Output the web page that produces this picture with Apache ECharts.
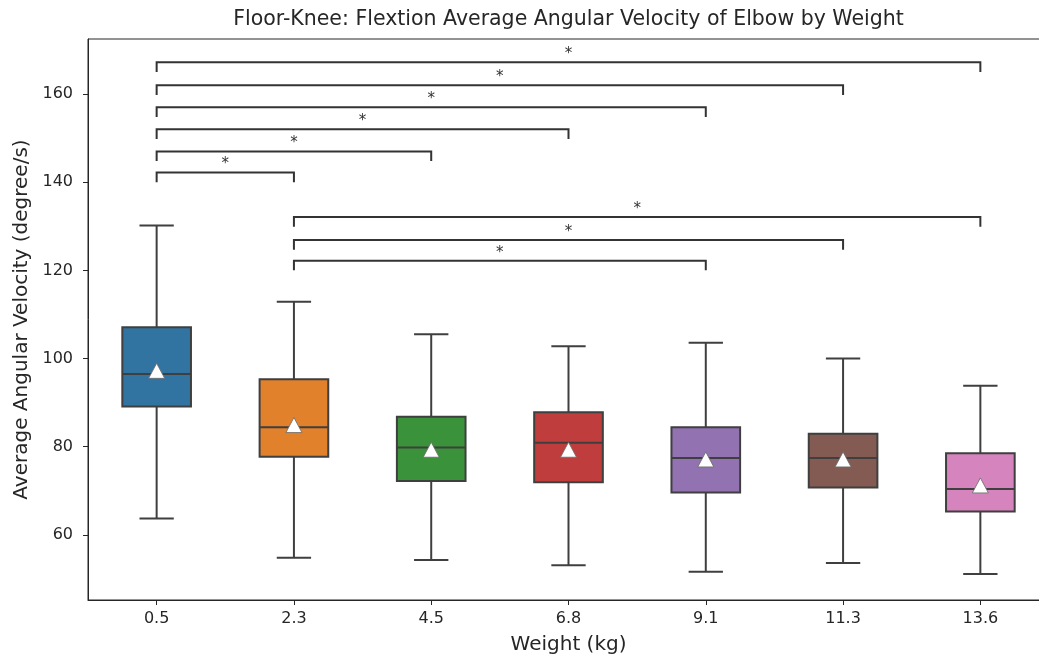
<!DOCTYPE html>
<html>
<head>
<meta charset="utf-8">
<script src="https://cdn.jsdelivr.net/npm/echarts@6/dist/echarts.min.js"></script>
<style>
  html, body { margin: 0; padding: 0; background: #fff; }
  #chart { width: 1039px; height: 660px; }
</style>
</head>
<body>
<div id="chart"></div>
<script>
// Weight categories (kg)
const categories = ['0.5', '2.3', '4.5', '6.8', '9.1', '11.3', '13.6'];

// Box statistics per weight (degree/s)
const whiskerLow  = [63.7, 54.8, 54.3, 53.1, 51.6, 53.6, 51.1];
const quartile1   = [89.1, 77.7, 72.2, 71.9, 69.6, 70.7, 65.3];
const medians     = [96.5, 84.4, 79.8, 80.9, 77.4, 77.4, 70.4];
const quartile3   = [107.1, 95.3, 86.8, 87.8, 84.4, 82.9, 78.5];
const whiskerHigh = [130.2, 112.9, 105.5, 102.8, 103.6, 100.0, 93.8];
const means       = [97.2, 84.9, 79.3, 79.3, 77.1, 77.1, 71.2];

// Significance brackets: category index pairs, bracket height, annotation
const bracketFrom  = [0, 0, 0, 0, 0, 0, 1, 1, 1];
const bracketTo    = [1, 2, 3, 4, 5, 6, 4, 5, 6];
const bracketY     = [142.2, 147.0, 152.0, 157.0, 162.0, 167.2, 122.2, 126.9, 132.1];
const bracketLabel = ['*', '*', '*', '*', '*', '*', '*', '*', '*'];

// Y axis tick labels
const yTicks = [60, 80, 100, 120, 140, 160];

const boxColors = ['#3274a1', '#e1812c', '#3a923a', '#c03d3e', '#9372b2', '#845b53', '#d684bd'];
const EDGE = '#3f3f3f';
const FONT = 'DejaVu Sans';

const boxData = categories.map((c, i) =>
  [i, whiskerLow[i], quartile1[i], medians[i], quartile3[i], whiskerHigh[i]]);
const meanData = categories.map((c, i) => [i, means[i]]);
const bracketData = bracketFrom.map((f, k) => [f, bracketTo[k], bracketY[k], k]);

const chart = echarts.init(document.getElementById('chart'), null, { renderer: 'canvas' });

chart.setOption({
  animation: false,
  backgroundColor: '#fff',
  textStyle: { fontFamily: FONT },
  graphic: [{
    type: 'text',
    x: 568.5, y: 20,
    style: {
      text: 'Floor-Knee: Flextion Average Angular Velocity of Elbow by Weight',
      font: '20.5px "DejaVu Sans"',
      fill: '#262626',
      textAlign: 'center',
      textVerticalAlign: 'middle'
    }
  }],
  grid: {
    left: 88, top: 39, width: 961, height: 561,
    outerBoundsMode: 'none',
    containLabel: false,
    show: true, borderColor: '#262626', borderWidth: 1, backgroundColor: 'transparent'
  },
  xAxis: {
    type: 'category',
    data: categories,
    boundaryGap: true,
    name: 'Weight (kg)',
    nameLocation: 'middle',
    nameGap: 35,
    nameTextStyle: { fontFamily: FONT, fontSize: 20, color: '#262626' },
    axisLine: { show: true, lineStyle: { color: '#262626', width: 1 } },
    axisTick: { show: true, alignWithLabel: true, length: 5, lineStyle: { color: '#262626' } },
    axisLabel: { fontFamily: FONT, fontSize: 16, color: '#262626', margin: 11 },
    splitLine: { show: false }
  },
  yAxis: {
    type: 'value',
    min: 45.2,
    max: 172.5,
    name: 'Average Angular Velocity (degree/s)',
    nameLocation: 'middle',
    nameGap: 56,
    nameRotate: 90,
    nameTextStyle: { fontFamily: FONT, fontSize: 20, color: '#262626' },
    axisLine: { show: true, lineStyle: { color: '#262626', width: 1 } },
    axisTick: { show: true, length: 5, customValues: yTicks, lineStyle: { color: '#262626' } },
    axisLabel: { fontFamily: FONT, fontSize: 16, color: '#262626', margin: 15, customValues: yTicks },
    splitLine: { show: false }
  },
  series: [
    {
      type: 'custom',
      name: 'box',
      data: boxData,
      encode: { x: 0, y: [1, 2, 3, 4, 5] },
      clip: false,
      z: 2,
      renderItem(params, api) {
        const i = api.value(0);
        const lo = api.coord([i, api.value(1)]);
        const q1 = api.coord([i, api.value(2)]);
        const md = api.coord([i, api.value(3)]);
        const q3 = api.coord([i, api.value(4)]);
        const hi = api.coord([i, api.value(5)]);
        const band = api.size([1, 0])[0];
        const bw = band * 0.5;
        const cw = band * 0.25;
        const x = lo[0];
        const ls = { stroke: EDGE, lineWidth: 2, fill: null };
        return {
          type: 'group',
          children: [
            { type: 'line', shape: { x1: x, y1: hi[1], x2: x, y2: q3[1] }, style: ls },
            { type: 'line', shape: { x1: x, y1: q1[1], x2: x, y2: lo[1] }, style: ls },
            { type: 'line', shape: { x1: x - cw / 2, y1: hi[1], x2: x + cw / 2, y2: hi[1] }, style: ls },
            { type: 'line', shape: { x1: x - cw / 2, y1: lo[1], x2: x + cw / 2, y2: lo[1] }, style: ls },
            { type: 'rect', shape: { x: x - bw / 2, y: q3[1], width: bw, height: q1[1] - q3[1] },
              style: { fill: boxColors[i], stroke: EDGE, lineWidth: 2 } },
            { type: 'line', shape: { x1: x - bw / 2, y1: md[1], x2: x + bw / 2, y2: md[1] }, style: ls }
          ]
        };
      }
    },
    {
      type: 'scatter',
      name: 'mean',
      data: meanData,
      symbol: 'triangle',
      symbolSize: [16, 15],
      z: 3,
      itemStyle: { color: '#ffffff', borderColor: '#6a6a6a', borderWidth: 0.8, opacity: 1 }
    },
    {
      type: 'custom',
      name: 'brackets',
      data: bracketData,
      encode: { x: [0, 1], y: 2 },
      clip: false,
      z: 4,
      renderItem(params, api) {
        const h = api.value(2);
        const p1 = api.coord([api.value(0), h]);
        const p2 = api.coord([api.value(1), h]);
        const drop = api.coord([api.value(0), h - 2.2])[1];
        const k = api.value(3);
        return {
          type: 'group',
          children: [
            { type: 'polyline',
              shape: { points: [[p1[0], drop], [p1[0], p1[1]], [p2[0], p2[1]], [p2[0], drop]] },
              style: { stroke: '#333333', lineWidth: 2, fill: null } },
            { type: 'text',
              x: (p1[0] + p2[0]) / 2, y: p1[1] - 0.5,
              style: { text: bracketLabel[k], font: '15px "DejaVu Sans"', fill: '#333333',
                       textAlign: 'center', textVerticalAlign: 'bottom' } }
          ]
        };
      }
    }
  ]
});
</script>
</body>
</html>
